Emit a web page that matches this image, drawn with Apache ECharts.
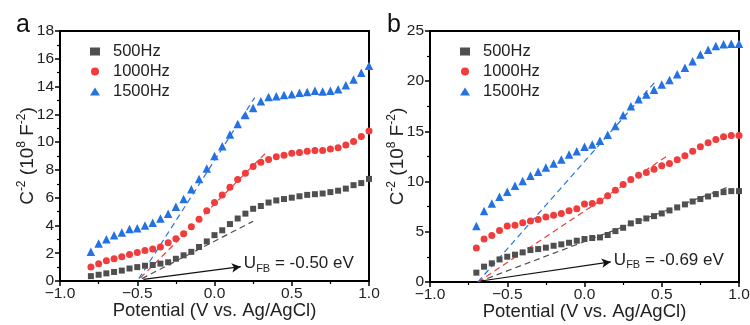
<!DOCTYPE html>
<html>
<head>
<meta charset="utf-8">
<script src="https://cdn.jsdelivr.net/npm/echarts@6/dist/echarts.min.js"></script>
<style>
html,body{margin:0;padding:0;background:#fff;}
#c{width:750px;height:325px;}
</style>
</head>
<body>
<div id="c"></div>
<script>
// ---- Panel a data ----
var potA = [-0.80,-0.75,-0.70,-0.65,-0.60,-0.55,-0.50,-0.45,-0.40,-0.35,-0.30,-0.25,-0.20,-0.15,-0.10,-0.05,0.00,0.05,0.10,0.15,0.20,0.25,0.30,0.35,0.40,0.45,0.50,0.55,0.60,0.65,0.70,0.75,0.80,0.85,0.90,0.95,1.00];
var a500 = [0.35,0.45,0.55,0.65,0.75,0.9,1.0,1.1,1.15,1.25,1.35,1.6,1.85,2.1,2.45,2.85,3.3,3.65,4.1,4.5,4.85,5.2,5.4,5.65,5.8,5.9,6.0,6.1,6.2,6.25,6.3,6.4,6.5,6.65,6.9,7.05,7.35];
var a1000 = [1.0,1.25,1.45,1.6,1.75,1.9,2.05,2.2,2.3,2.45,2.75,3.05,3.4,3.9,4.45,5.05,5.65,6.2,6.75,7.3,7.75,8.25,8.55,8.75,8.95,9.05,9.2,9.25,9.35,9.4,9.4,9.5,9.6,9.8,10.05,10.4,10.8];
var a1500 = [2.1,2.7,3.0,3.3,3.5,3.75,3.8,4.0,4.2,4.5,4.85,5.35,5.9,6.6,7.35,8.1,9.0,9.7,10.55,11.3,11.95,12.45,12.95,13.25,13.3,13.4,13.45,13.55,13.6,13.7,13.65,13.7,13.8,14.1,14.5,15.0,15.5];
var fitA500 = [[-0.47,0.17],[0.25,4.3]];
var fitA1000 = [[-0.48,0.22],[0.33,9.2]];
var fitA1500 = [[-0.49,0.17],[0.26,13.2]];
var arrowA = [[-0.46,0.12],[0.17,1.03]];
var labelA = [0.19,1.25];
var textA = '-0.50 eV';

// ---- Panel b data ----
var potB = [-0.70,-0.65,-0.60,-0.55,-0.50,-0.45,-0.40,-0.35,-0.30,-0.25,-0.20,-0.15,-0.10,-0.05,0.00,0.05,0.10,0.15,0.20,0.25,0.30,0.35,0.40,0.45,0.50,0.55,0.60,0.65,0.70,0.75,0.80,0.85,0.90,0.95,1.00];
var b500 = [0.93,1.53,1.86,2.25,2.52,2.72,2.95,3.18,3.28,3.42,3.61,3.75,3.91,4.11,4.28,4.38,4.44,4.68,5.07,5.4,5.84,6.07,6.33,6.56,6.83,7.13,7.43,7.73,8.02,8.26,8.52,8.75,8.95,9.05,9.05];
var b1000 = [3.38,4.28,4.64,5.14,5.57,5.64,5.9,6.07,6.23,6.47,6.66,6.83,7.1,7.29,7.76,7.82,8.06,8.59,9.15,9.71,10.21,10.64,10.9,11.24,11.57,11.8,12.17,12.57,13.03,13.46,13.86,14.19,14.46,14.59,14.59];
var b1500 = [5.57,7.06,7.82,8.49,8.99,9.58,10.05,10.58,10.97,11.4,11.8,12.2,12.7,13.03,13.46,13.7,14.06,14.66,15.55,16.6,17.5,18.2,18.67,19.16,19.66,20.13,20.69,21.35,21.98,22.65,23.14,23.5,23.67,23.74,23.74];
var fitB500 = [[-0.69,0],[0.92,9.4]];
var fitB1000 = [[-0.69,0],[0.55,12.7]];
var fitB1500 = [[-0.69,0],[0.46,20.0]];
var arrowB = [[-0.67,0.1],[0.17,2.0]];
var labelB = [0.19,2.2];
var textB = '-0.69 eV';

var seriesNames = ['500Hz','1000Hz','1500Hz'];
var xTicks = {min:-1, max:1, interval:0.5};
var yTicksA = {min:0, max:18, interval:2};
var yTicksB = {min:0, max:25, interval:5};

// ---- styling ----
var FONT = 'Liberation Sans, Arial, sans-serif';
var C500 = '#4f4f4f', C1000 = '#f03c3c', C1500 = '#2472e2';
var colors = [C500, C1000, C1500];
var symbols = ['rect','circle','triangle'];
var sizes = [6,7,8.5];

function zip(xs, ys){ return xs.map(function(x,i){ return [x, ys[i]]; }); }

function xAxis(gi){
  return {
    type:'value', gridIndex:gi, min:xTicks.min, max:xTicks.max, interval:xTicks.interval,
    name:'Potential (V vs. Ag/AgCl)', nameLocation:'middle', nameGap:20, nameMoveOverlap:false,
    nameTextStyle:{fontFamily:FONT, fontSize:18.5, color:'#222'},
    axisLine:{show:true, onZero:false, lineStyle:{color:'#000', width:2}},
    axisTick:{show:true, inside:false, length:5, lineStyle:{color:'#000', width:1.5}},
    minorTick:{show:true, splitNumber:2, length:3, lineStyle:{color:'#000', width:1.2}},
    splitLine:{show:false},
    axisLabel:{fontFamily:FONT, fontSize:15.5, color:'#222', margin:5,
      formatter:function(v){ var s = Math.abs(v).toFixed(1); return v<0 ? '\u2212'+s : s; }}
  };
}
function yAxis(gi, t){
  return {
    type:'value', gridIndex:gi, min:t.min, max:t.max, interval:t.interval,
    name:'{n|C}{p|-2}{n| (10}{p|8}{n| F}{p|-2}{n|)}', nameLocation:'middle', nameRotate:90, nameGap:20, nameMoveOverlap:false,
    nameTextStyle:{fontFamily:FONT, color:'#222',
      rich:{ n:{fontFamily:FONT, fontSize:19, lineHeight:24, color:'#222'},
             p:{fontFamily:FONT, fontSize:12, lineHeight:12, verticalAlign:'top', color:'#222'} }},
    axisLine:{show:true, onZero:false, lineStyle:{color:'#000', width:2}},
    axisTick:{show:true, inside:false, length:5, lineStyle:{color:'#000', width:1.5}},
    minorTick:{show:true, splitNumber:2, length:3, lineStyle:{color:'#000', width:1.2}},
    splitLine:{show:false},
    axisLabel:{fontFamily:FONT, fontSize:15.5, color:'#222', margin:6}
  };
}

function scatter(name, data, k, gi){
  return {
    type:'scatter', name:name, xAxisIndex:gi, yAxisIndex:gi, data:data,
    symbol:symbols[k], symbolSize:sizes[k], itemStyle:{color:colors[k], opacity:1}, z:3
  };
}
function fitLine(data, k, gi){
  return {
    type:'line', xAxisIndex:gi, yAxisIndex:gi, data:data, symbol:'none', silent:true,
    lineStyle:{color:colors[k], width:1.2, type:[6,4]}, z:2
  };
}
function arrow(data, pos, txt, gi){
  return {
    type:'line', xAxisIndex:gi, yAxisIndex:gi, data:[], symbol:'none', silent:true,
    markLine:{
      silent:true, animation:false, symbol:['none','arrow'], symbolSize:[7,9],
      lineStyle:{color:'#111', width:1.2, type:'solid'}, label:{show:false},
      data:[[{coord:data[0]},{coord:data[1]}]]
    },
    markPoint:{
      silent:true, animation:false, symbol:'circle', symbolSize:0,
      data:[{coord:pos}],
      label:{show:true, position:'right', distance:0, color:'#222',
        formatter:'{u|U}{s|FB}{u| = ' + txt + '}',
        rich:{ u:{fontFamily:FONT, fontSize:17, lineHeight:22, color:'#222'},
               s:{fontFamily:FONT, fontSize:11, lineHeight:11, verticalAlign:'bottom', color:'#222'} }}
    }
  };
}

var chart = echarts.init(document.getElementById('c'), null, {renderer:'canvas'});
var option = {
  animation:false,
  backgroundColor:'#fff',
  title:[
    {text:'a', left:11, top:8, textStyle:{fontFamily:FONT, fontSize:25, fontWeight:'normal', color:'#111'}},
    {text:'b', left:382, top:8, textStyle:{fontFamily:FONT, fontSize:25, fontWeight:'normal', color:'#111'}}
  ],
  grid:[
    {left:60, top:31, width:309, height:250, show:true, borderColor:'#000', borderWidth:2, backgroundColor:'transparent', containLabel:false, outerBoundsMode:'none'},
    {left:430, top:31, width:309, height:251, show:true, borderColor:'#000', borderWidth:2, backgroundColor:'transparent', containLabel:false, outerBoundsMode:'none'}
  ],
  legend:[
    {data:seriesNames, orient:'vertical', left:85, top:38, itemWidth:10, itemHeight:8, itemGap:3,
     textStyle:{fontFamily:FONT, fontSize:16.5, color:'#222', padding:[0,0,0,8], lineHeight:15}, selectedMode:false},
    {data:seriesNames, orient:'vertical', left:455, top:38, itemWidth:10, itemHeight:8, itemGap:3,
     textStyle:{fontFamily:FONT, fontSize:16.5, color:'#222', padding:[0,0,0,8], lineHeight:15}, selectedMode:false}
  ],
  xAxis:[xAxis(0), xAxis(1)],
  yAxis:[yAxis(0, yTicksA), yAxis(1, yTicksB)],
  series:[
    fitLine(fitA500,0,0), fitLine(fitA1000,1,0), fitLine(fitA1500,2,0),
    scatter(seriesNames[0], zip(potA,a500), 0, 0),
    scatter(seriesNames[1], zip(potA,a1000), 1, 0),
    scatter(seriesNames[2], zip(potA,a1500), 2, 0),
    arrow(arrowA, labelA, textA, 0),
    fitLine(fitB500,0,1), fitLine(fitB1000,1,1), fitLine(fitB1500,2,1),
    scatter(seriesNames[0], zip(potB,b500), 0, 1),
    scatter(seriesNames[1], zip(potB,b1000), 1, 1),
    scatter(seriesNames[2], zip(potB,b1500), 2, 1),
    arrow(arrowB, labelB, textB, 1)
  ]
};
chart.setOption(option);
</script>
</body>
</html>
